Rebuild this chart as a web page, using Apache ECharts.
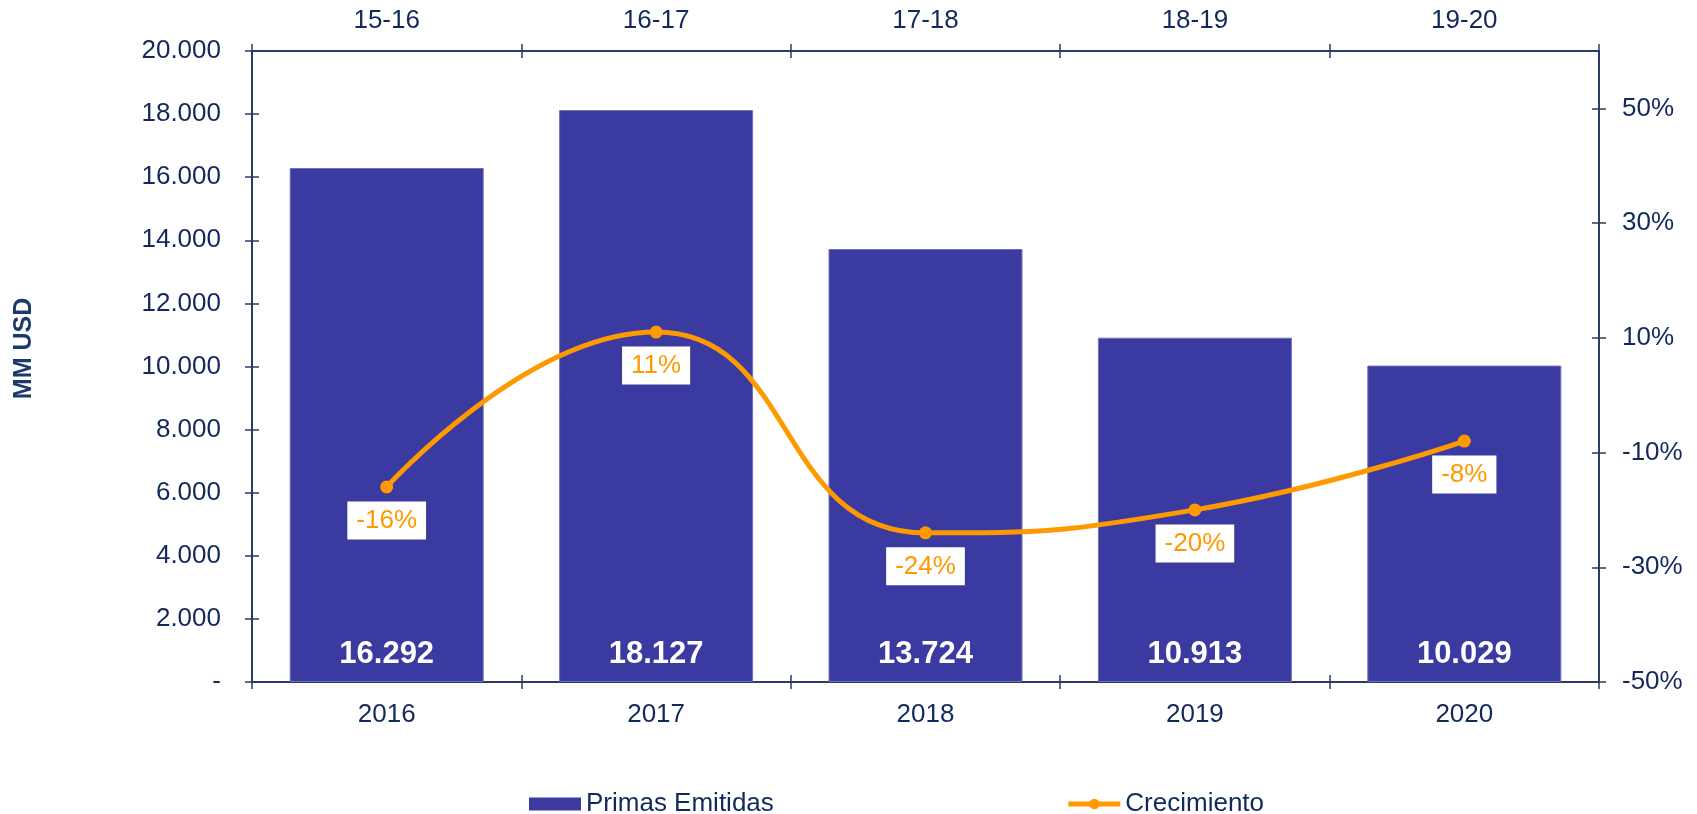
<!DOCTYPE html>
<html>
<head>
<meta charset="utf-8">
<script src="https://cdn.jsdelivr.net/npm/echarts@6/dist/echarts.min.js"></script>
<style>
  html, body { margin: 0; padding: 0; background: #fff; }
  #chart { width: 1697px; height: 814px; }
</style>
</head>
<body>
<div id="chart"></div>
<script>
var years = ["2016", "2017", "2018", "2019", "2020"];
var periods = ["15-16", "16-17", "17-18", "18-19", "19-20"];
var primas = [16292, 18127, 13724, 10913, 10029];
var crecimiento = [-16, 11, -24, -20, -8];

var navy = "#13295b", axisCol = "#2b3a66", barCol = "#3a3aa0", orange = "#ff9900";
var font = "'Liberation Sans', Arial, sans-serif";

function miles(v) {
    return String(v).replace(/\B(?=(\d{3})+(?!\d))/g, ".");
}

var chart = echarts.init(document.getElementById("chart"));

// category axes; the "inside" copies only add the inner half of the crossing ticks
function catAxis(pos, data, inside) {
    return {
        type: "category", position: pos, data: data, boundaryGap: true,
        axisLine: { show: !inside, onZero: false, lineStyle: { color: axisCol, width: 2 } },
        axisTick: { show: true, inside: inside, length: 7, lineStyle: { color: axisCol, width: 1.5 } },
        axisLabel: { show: !inside, color: navy, fontSize: 26, fontFamily: font, margin: pos == "top" ? 17 : 20 },
        splitLine: { show: false }
    };
}

var option = {
    animation: false,
    textStyle: { fontFamily: font },
    grid: { left: 252, right: 98, top: 51, bottom: 132 },
    legend: {
        left: 524, top: 786, itemGap: 292, itemWidth: 52, itemHeight: 13,
        textStyle: { color: navy, fontSize: 26, fontFamily: font },
        itemStyle: { borderWidth: 0 },
        lineStyle: { width: 5 },
        data: [{ name: "Primas Emitidas", icon: "rect" }, "Crecimiento"]
    },
    xAxis: [
        catAxis("bottom", years, false),
        catAxis("top", periods, false),
        catAxis("bottom", years, true),
        catAxis("top", periods, true)
    ],
    yAxis: [
        {
            type: "value", position: "left", min: 0, max: 20000, interval: 2000,
            name: "MM USD", nameLocation: "middle", nameRotate: 90, nameGap: 215,
            nameTextStyle: { color: "#1b3a6b", fontWeight: "bold", fontSize: 25, fontFamily: font, padding: [0, 0, 0, 36] },
            axisLine: { show: true, lineStyle: { color: axisCol, width: 2 } },
            axisTick: { show: true, length: 7, lineStyle: { color: axisCol, width: 1.5 } },
            axisLabel: { color: navy, fontSize: 26, fontFamily: font, margin: 31,
                formatter: function (v) { return v === 0 ? "-" : miles(v); } },
            splitLine: { show: false }
        },
        {
            type: "value", position: "right", min: -50, max: 60, interval: 20,
            axisLine: { show: true, lineStyle: { color: axisCol, width: 2 } },
            axisTick: { show: true, length: 7, lineStyle: { color: axisCol, width: 1.5 } },
            axisLabel: { color: navy, fontSize: 26, fontFamily: font, margin: 23, showMaxLabel: false,
                formatter: function (v) { return v + "%"; } },
            splitLine: { show: false }
        },
        {
            type: "value", position: "left", min: 0, max: 20000, interval: 2000,
            axisLine: { show: false }, axisLabel: { show: false }, splitLine: { show: false },
            axisTick: { show: true, inside: true, length: 7, lineStyle: { color: axisCol, width: 1.5 } }
        },
        {
            type: "value", position: "right", min: -50, max: 60, interval: 20,
            axisLine: { show: false }, axisLabel: { show: false }, splitLine: { show: false },
            axisTick: { show: true, inside: true, length: 7, lineStyle: { color: axisCol, width: 1.5 } }
        }
    ],
    series: [
        {
            name: "Primas Emitidas", type: "bar", xAxisIndex: 0, yAxisIndex: 0,
            barWidth: "72%", data: primas,
            itemStyle: { color: barCol, borderColor: "#6f6fc0", borderWidth: 1 },
            label: {
                show: true, position: "insideBottom", distance: 12,
                color: "#fff", fontWeight: "bold", fontSize: 31, fontFamily: font,
                formatter: function (p) { return miles(p.value); }
            }
        },
        {
            name: "Crecimiento", type: "line", xAxisIndex: 0, yAxisIndex: 1,
            data: crecimiento, smooth: 0.5, z: 5,
            symbol: "circle", symbolSize: 13,
            itemStyle: { color: orange },
            lineStyle: { color: orange, width: 5 },
            label: {
                show: true, position: "bottom", distance: 8,
                color: orange, fontSize: 26, fontFamily: font,
                backgroundColor: "#fff", padding: [6, 9, 6, 9],
                formatter: function (p) { return p.value + "%"; }
            }
        }
    ]
};

chart.setOption(option);
</script>
</body>
</html>
